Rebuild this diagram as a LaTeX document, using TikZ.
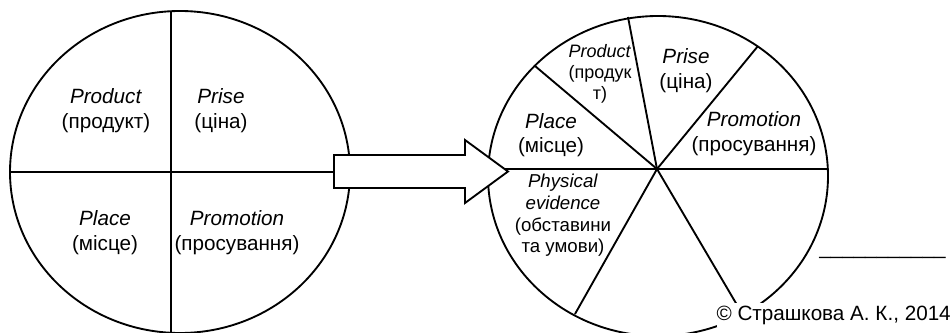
\documentclass[tikz,border=0pt]{standalone}
\usepackage{fontspec}
\setmainfont{Liberation Sans}

\tikzset{
	rim/.style={line width=1.4pt},
	txt/.style={align=center, inner sep=0pt, font=\fontsize{15.5}{18.75}\selectfont},
	txtsmall/.style={align=center, inner sep=0pt, font=\fontsize{13.5}{15.75}\selectfont},
}

\begin{document}
\begin{tikzpicture}[x=0.75pt, y=-0.75pt]
	\useasboundingbox (0,0) rectangle (952,332);

	% Old model: four parts
	\draw[rim] (180,172) ellipse [x radius=170, y radius=161];
	\coordinate (lW) at (10,172);
	\coordinate (lE) at (350,172);
	\coordinate (lN) at (171,11);
	\coordinate (lS) at (171,340);
	\draw[rim] (lW) -- (lE);
	\draw[rim] (lN) -- (lS);

	\node[txt] (prodL) at (106,110.5) {\textit{Product}\\(продукт)};
	\node[txt] (priseL) at (221,110.5) {\textit{Prise}\\(ціна)};
	\node[txt] (placeL) at (105,233) {\textit{Place}\\(місце)};
	\node[txt] (promL) at (237,233) {\textit{Promotion}\\(просування)};

	% New model: seven parts around one hub
	\draw[rim] (658,176) ellipse [x radius=170, y radius=160];
	\coordinate (hub) at (657,169);
	\coordinate (rN) at (628,17);
	\coordinate (rNE) at (758,46);
	\coordinate (rNW) at (535,66);
	\coordinate (rW) at (488,169);
	\coordinate (rE) at (828,169);
	\coordinate (rSW) at (575,314);
	\coordinate (rSE) at (740,310);
	\foreach \p in {rN,rNE,rNW,rW,rE,rSW,rSE}
		\draw[rim] (hub) -- (\p);

	\node[txtsmall] (prodR) at (600,73.5) {\textit{Product}\\(продук\\т)};
	\node[txt] (priseR) at (686,70.5) {\textit{Prise}\\(ціна)};
	\node[txt] (promR) at (754,133.5) {\textit{Promotion}\\(просування)};
	\node[txt, font=\fontsize{15.5}{18}\selectfont] (placeR) at (551,135) {\textit{Place}\\(місце)};
	\node[txt, font=\fontsize{14}{16.3}\selectfont] (physR) at (563,215.5) {\textit{Physical}\\\textit{evidence}\\(обставини\\та умови)};

	% Block arrow from old to new
	\draw[rim, fill=white] (334,155) -- (465,155) -- (465,140) -- (508,171.5)
		-- (465,203) -- (465,188) -- (334,188) -- cycle;

	% Signature
	\node[txt, anchor=base west] (rule) at (819,254) {\_\_\_\_\_\_\_\_\_\_\_};
	\node[txt, anchor=base east, fill=white, inner ysep=2pt] (sign) at (951,320) {© Страшкова А. К., 2014};
\end{tikzpicture}
\end{document}
